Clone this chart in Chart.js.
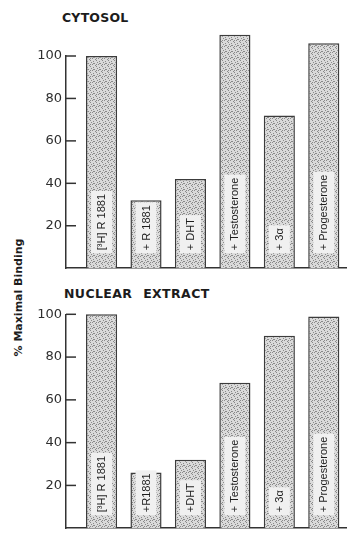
<!DOCTYPE html>
<html>
<head>
<meta charset="utf-8">
<script src="https://cdn.jsdelivr.net/npm/chart.js@4.4.1/dist/chart.umd.min.js"></script>
<style>
  html, body { margin: 0; padding: 0; background: #fff; width: 347px; height: 533px; overflow: hidden; }
  .panel { position: absolute; left: 0; }
  .title { position: absolute; font: bold 12.5px 'DejaVu Sans', sans-serif; color: #1c1c1c; white-space: nowrap; }
  #yLabel { position: absolute; width: 150px; left: -57px; top: 291px; text-align: center;
            font: bold 11px 'DejaVu Sans', sans-serif; color: #1c1c1c; transform: rotate(-90deg); white-space: nowrap; }
</style>
</head>
<body>
<div class="title" style="left:62px;top:10px;letter-spacing:0.2px">CYTOSOL</div>
<div class="title" style="left:64px;top:286px;word-spacing:6px;letter-spacing:0.4px">NUCLEAR EXTRACT</div>
<div id="yLabel">% Maximal Binding</div>
<canvas id="cytosol" class="panel" style="top:0" width="347" height="280"></canvas>
<canvas id="nuclear" class="panel" style="top:276px" width="347" height="264"></canvas>
<script>
// values (% of maximal binding)
const cytosolLabels = ['[³H] R 1881', '+ R 1881', '+ DHT', '+ Testosterone', '+ 3α', '+ Progesterone'];
const nuclearLabels = ['[³H] R 1881', '+R1881', '+DHT', '+ Testosterone', '+ 3α', '+ Progesterone'];
const cytosolValues = [100, 32, 42, 110, 72, 106];
const nuclearValues = [100, 26, 32, 68, 90, 99];
const yTicks = [20, 40, 60, 80, 100];

const AXIS = '#333333';
const BAR_EDGE = '#3c3c3c';
const TICK_FONT = { family: "'DejaVu Sans', sans-serif", size: 13 };

// stippled grey fill, like the printed dot screen
function stipple() {
  const c = document.createElement('canvas');
  c.width = 6; c.height = 6;
  const g = c.getContext('2d');
  g.fillStyle = '#dadada';
  g.fillRect(0, 0, 6, 6);
  g.fillStyle = '#8a8a8a';
  [[0,0],[3,1],[1,2],[4,3],[2,4],[5,5],[0,4],[3,3]].forEach(([x, y]) => g.fillRect(x, y, 1, 1));
  return g.createPattern(c, 'repeat');
}

const inwardTicks = {
  id: 'inwardTicks',
  afterDraw(chart) {
    const y = chart.scales.y;
    const { ctx, chartArea } = chart;
    ctx.save();
    ctx.strokeStyle = AXIS;
    ctx.lineWidth = 1.5;
    yTicks.forEach(v => {
      const py = y.getPixelForValue(v);
      ctx.beginPath();
      ctx.moveTo(chartArea.left, py);
      ctx.lineTo(chartArea.left + 10, py);
      ctx.stroke();
    });
    ctx.restore();
  }
};

const barLabels = {
  id: 'barLabels',
  afterDatasetsDraw(chart, _args, opts) {
    const meta = chart.getDatasetMeta(0);
    const { ctx } = chart;
    ctx.save();
    ctx.font = "11px 'Liberation Sans', Arial, sans-serif";
    ctx.textBaseline = 'middle';
    ctx.textAlign = 'left';
    meta.data.forEach((bar, i) => {
      const text = opts.labels[i];
      const w = ctx.measureText(text).width;
      ctx.save();
      ctx.translate(bar.x, bar.base - opts.lift);
      ctx.rotate(-Math.PI / 2);
      ctx.fillStyle = '#f0f0f0';
      ctx.fillRect(0, -10.5, w + 6, 21);
      ctx.fillStyle = '#1e1e1e';
      ctx.fillText(text, 3, 0.5);
      ctx.restore();
    });
    ctx.restore();
  }
};

function makePanel(id, labels, values, padTop, padBottom, lift) {
  const fill = stipple();
  return new Chart(document.getElementById(id), {
    type: 'bar',
    plugins: [inwardTicks, barLabels],
    data: {
      datasets: [{
        data: values.map((v, i) => ({ x: i + 1, y: v })),
        backgroundColor: fill,
        borderColor: BAR_EDGE,
        borderWidth: 1.5,
        borderSkipped: 'bottom',
        barPercentage: 0.7,
        categoryPercentage: 1,
        clip: false,
      }],
    },
    options: {
      responsive: false,
      animation: false,
      layout: { padding: { top: padTop, bottom: padBottom, left: 0, right: 1 } },
      plugins: {
        legend: { display: false },
        tooltip: { enabled: false },
        barLabels: { labels, lift },
      },
      scales: {
        x: {
          type: 'linear',
          offset: false,
          min: 0.2,
          max: 6.5,
          ticks: { display: false },
          grid: { display: false, drawTicks: false, offset: false },
          border: { display: true, color: AXIS, width: 1.5 },
          afterFit: s => { s.height = 0; },
        },
        y: {
          min: 0,
          max: 100,
          afterBuildTicks: s => { s.ticks = yTicks.map(v => ({ value: v })); },
          ticks: { color: '#2e2e2e', font: TICK_FONT, padding: 4 },
          grid: { display: false, drawTicks: false },
          border: { display: true, color: AXIS, width: 1.5 },
          afterFit: s => { s.width = 66; },
        },
      },
    },
  });
}

makePanel('cytosol', cytosolLabels, cytosolValues, 56, 6.5, 15);
makePanel('nuclear', nuclearLabels, nuclearValues, 38.3, 7, 13);
</script>
</body>
</html>
